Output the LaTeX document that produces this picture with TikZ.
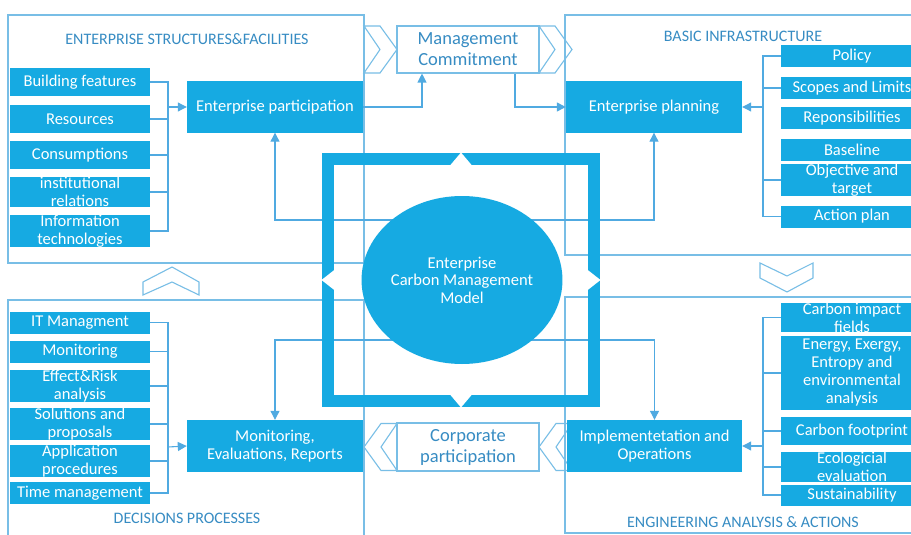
\documentclass[tikz,border=0pt]{standalone}
\usepackage{fontspec}
\setmainfont{Carlito}
\usetikzlibrary{arrows.meta,shapes.geometric}
\definecolor{boxblue}{RGB}{22,170,226}
\definecolor{wireblue}{RGB}{80,170,225}
\definecolor{rimblue}{RGB}{120,190,230}
\definecolor{inkblue}{RGB}{55,140,195}
\begin{document}
\begin{tikzpicture}[x=1pt,y=-1pt,
rim/.style={draw=rimblue,line width=1.1pt},
wire/.style={draw=wireblue,line width=1.1pt},
arr/.style={wire,-{Triangle[length=9pt,width=9pt]}},
item/.style={fill=boxblue,text=white,minimum width=140pt,inner sep=0pt,align=center,font=\fontsize{16.5}{18}\selectfont},
main/.style={item,minimum width=176pt,minimum height=51pt},
side/.style={rim,fill=white,text=inkblue,minimum width=142pt,minimum height=47pt,inner sep=0pt,align=center,font=\fontsize{18.5}{21}\selectfont},
title/.style={text=inkblue,font=\fontsize{16}{18}\selectfont},
chevron/.pic={\draw[rim] (0,-23.5) -- (16,-23.5) -- (33,0) -- (16,23.5) -- (0,23.5) -- (16,0) -- cycle;}]
\useasboundingbox (0,0) rectangle (911,535);
\clip (0,0) rectangle (911,535);
\fill[white] (0,0) rectangle (911,535);
\draw[rim] (8,15) rectangle (364,263);
\draw[rim] (565,15) rectangle (930,255);
\draw[rim] (8,300) rectangle (364,545);
\draw[rim] (565,297) rectangle (930,533);
\node[title] (t1) at (187,39) {ENTERPRISE STRUCTURES\&FACILITIES};
\node[title] (t2) at (743,36) {BASIC INFRASTRUCTURE};
\node[title] (t3) at (187,518) {DECISIONS PROCESSES};
\node[title] (t4) at (743,522) {ENGINEERING ANALYSIS \& ACTIONS};
\pic at (364,49.5) {chevron};
\pic at (539,49.5) {chevron};
\pic[xscale=-1] at (397,447) {chevron};
\pic[xscale=-1] at (572,447) {chevron};
\draw[rim] (143,282) -- (172,267) -- (199,282) -- (199,295) -- (172,282) -- (143,295) -- cycle;
\draw[rim] (760,263) -- (787,276) -- (813,263) -- (813,278) -- (787,292) -- (760,278) -- cycle;
\node[side] (mc) at (468,49.5) {Management\\Commitment};
\node[side,minimum height=48pt] (cp) at (468,447) {Corporate\\participation};
\node[main] (ep) at (275,107) {Enterprise participation};
\node[main] (pl) at (654,107) {Enterprise planning};
\node[main,minimum height=52pt] (mer) at (275,446) {Monitoring,\\Evaluations, Reports};
\node[main,minimum height=52pt,minimum width=175pt] (io) at (654.5,446) {Implementetation and\\Operations};
\node[item,minimum height=28pt] (bf) at (80,82) {Building features};
\node[item,minimum height=28pt] (rs) at (80,119) {Resources};
\node[item,minimum height=28pt] (cs) at (80,155) {Consumptions};
\node[item,minimum height=28pt] (ir) at (80,192) {institutional\\relations};
\node[item,minimum height=28pt] (it) at (80,231) {Information\\technologies};
\node[item,minimum width=142pt,minimum height=22pt] (po) at (852,56) {Policy};
\node[item,minimum width=142pt,minimum height=22pt] (sl) at (852,88) {Scopes and Limits};
\node[item,minimum width=142pt,minimum height=22pt] (rp) at (852,118) {Reponsibilities};
\node[item,minimum width=142pt,minimum height=22pt] (bl) at (852,149.5) {Baseline};
\node[item,minimum width=142pt,minimum height=28pt] (ob) at (852,180) {Objective and\\target};
\node[item,minimum width=142pt,minimum height=22pt] (ap) at (852,216.5) {Action plan};
\node[item,minimum height=22pt] (itm) at (80,322.5) {IT Managment};
\node[item,minimum height=22pt] (mo) at (80,351.5) {Monitoring};
\node[item,minimum height=28pt] (er) at (80,386) {Effect\&Risk\\analysis};
\node[item,minimum height=28pt] (sp) at (80,424) {Solutions and\\proposals};
\node[item,minimum height=28pt] (apr) at (80,461) {Application\\procedures};
\node[item,minimum height=22pt] (tm) at (80,493) {Time management};
\node[item,minimum width=142pt,minimum height=29pt] (ci) at (852,317.5) {Carbon impact\\fields};
\node[item,minimum width=142pt,minimum height=74pt] (en) at (852,373) {Energy, Exergy,\\Entropy and\\environmental\\analysis};
\node[item,minimum width=142pt,minimum height=28pt] (cf) at (852,431) {Carbon footprint};
\node[item,minimum width=142pt,minimum height=28pt] (ee) at (852,467) {Ecologicial\\evaluation};
\node[item,minimum width=142pt,minimum height=21pt] (su) at (852,495) {Sustainability};
\coordinate (tb) at (168,107);
\draw[wire] (bf.east) -| (tb) |- (it.east);
\foreach \n in {rs,cs,ir} \draw[wire] (\n.east) -- (\n.east -| tb);
\draw[arr] (tb) -- (ep.west);
\coordinate (tr) at (763,107);
\draw[wire] (po.west) -| (tr) |- (ap.west);
\foreach \n in {sl,ob} \draw[wire] (\n.west) -- (\n.west -| tr);
\draw[arr] (tr) -- (pl.east);
\coordinate (bb) at (168,447);
\draw[wire] (itm.east) -| (bb) |- (tm.east);
\foreach \n in {mo,er,sp,apr} \draw[wire] (\n.east) -- (\n.east -| bb);
\draw[arr] (bb) -- (mer.west);
\coordinate (br) at (763,446);
\draw[wire] (ci.west) -| (br) |- (su.west);
\foreach \n in {en,cf,ee} \draw[wire] (\n.west) -- (\n.west -| br);
\draw[arr] (br) -- (io.east);
\draw[arr] (ep.east) -| ([xshift=-46pt]mc.south);
\draw[arr] ([xshift=47pt]mc.south) |- (pl.west);
\coordinate (ct) at (462,220);
\coordinate (cb) at (462,340);
\draw[arr] (ct) -| (ep.south);
\draw[arr] (ct) -| (pl.south);
\draw[arr] (cb) -| (mer.north);
\draw[arr] (cb) -| (io.north);
\draw[boxblue,line width=12pt] (328,159) rectangle (594,401);
\fill[white] (450,165.5) -- (461,152.5) -- (472,165.5) -- cycle;
\fill[white] (450,394.5) -- (461,407.5) -- (472,394.5) -- cycle;
\fill[white] (335.5,269) -- (321.5,280) -- (335.5,291) -- cycle;
\fill[white] (586.5,269) -- (600.5,280) -- (586.5,291) -- cycle;
\node[ellipse,fill=boxblue,text=white,minimum width=190pt,minimum height=168pt,inner sep=0pt,align=center,font=\fontsize{16.5}{17.5}\selectfont] (cm) at (462,280) {Enterprise\\Carbon Management\\Model};
\end{tikzpicture}
\end{document}
